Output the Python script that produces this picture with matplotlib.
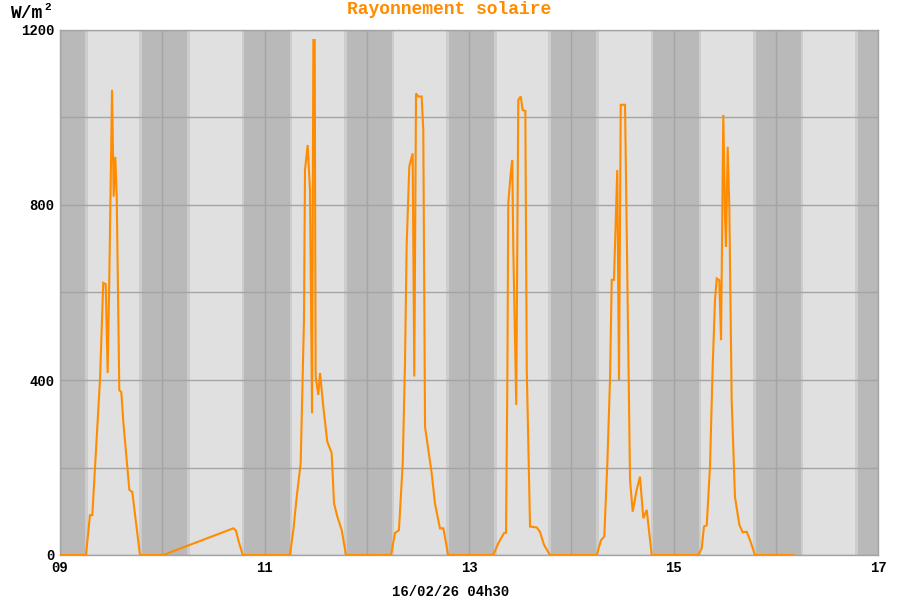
import matplotlib
matplotlib.use("Agg")
import matplotlib.pyplot as plt
import numpy as np

# time (day of month, fractional) and solar irradiance (W/m2)
t_days = [9.000, 9.254, 9.293, 9.316, 9.391, 9.423, 9.447, 9.466, 9.482, 9.509,
          9.525, 9.541, 9.555, 9.580, 9.600, 9.619, 9.678, 9.707, 9.782, 10.010,
          10.695, 10.721, 10.744, 10.787, 11.249, 11.282, 11.315, 11.354, 11.374, 11.386,
          11.396, 11.422, 11.445, 11.465, 11.478, 11.491, 11.500, 11.526, 11.543, 11.575,
          11.614, 11.657, 11.680, 11.712, 11.755, 11.797, 12.237, 12.276, 12.315, 12.352,
          12.374, 12.390, 12.416, 12.449, 12.465, 12.482, 12.504, 12.537, 12.553, 12.570,
          12.602, 12.635, 12.667, 12.716, 12.749, 12.782, 12.795, 13.238, 13.287, 13.342,
          13.362, 13.375, 13.384, 13.408, 13.423, 13.433, 13.462, 13.482, 13.506, 13.525,
          13.551, 13.565, 13.597, 13.662, 13.694, 13.734, 13.792, 14.249, 14.291, 14.323,
          14.353, 14.379, 14.396, 14.418, 14.428, 14.438, 14.450, 14.467, 14.484, 14.526,
          14.575, 14.601, 14.640, 14.672, 14.705, 14.738, 14.787, 15.243, 15.276, 15.298,
          15.325, 15.357, 15.383, 15.406, 15.423, 15.448, 15.465, 15.487, 15.504, 15.513,
          15.530, 15.546, 15.569, 15.601, 15.644, 15.677, 15.716, 15.748, 15.797, 16.172]
irradiance = [0, 0, 91, 91, 400, 622, 619, 416, 629, 1063,
              819, 910, 816, 377, 372, 305, 149, 144, 0, 0,
              61, 56, 34, 0, 0, 57, 133, 210, 408, 537,
              880, 937, 834, 324, 1177, 1177, 408, 366, 416, 339,
              259, 233, 118, 88, 57, 0, 0, 50, 57, 210,
              438, 705, 888, 918, 408, 1055, 1048, 1048, 971, 293,
              240, 187, 118, 61, 61, 19, 0, 0, 27, 50,
              51, 400, 804, 872, 903, 705, 343, 1040, 1048, 1017,
              1015, 423, 65, 63, 53, 23, 0, 0, 34, 42,
              210, 400, 629, 629, 705, 781, 880, 400, 1029, 1029,
              171, 99, 149, 179, 84, 103, 0, 0, 15, 65,
              68, 202, 430, 583, 632, 628, 491, 1006, 773, 705,
              933, 796, 354, 133, 69, 52, 53, 34, 0, 0]

days = list(range(9, 18))
x_labels = ["09", "", "11", "", "13", "", "15", "", "17"]
y_ticks = [0, 200, 400, 600, 800, 1000, 1200]
y_labels = ["0", "", "400", "", "800", "", "1200"]
dusk_offset = -0.198   # night starts before midnight
dawn_offset = 0.245    # night ends after midnight

FONT = "Liberation Mono"
ORANGE = "#ff8c00"

fig = plt.figure(figsize=(9, 6), dpi=100)
ax = fig.add_axes([60 / 900, 45 / 600, 818 / 900, 525 / 600])
ax.set_facecolor("#e0e0e0")
ax.set_xlim(9, 17)
ax.set_ylim(0, 1200)

tw = 0.025
for d in days:
    s = d + dusk_offset
    e = d + dawn_offset
    ax.axvspan(s - tw, s, color="#cdcdcd", lw=0, zorder=0)
    ax.axvspan(e, e + tw, color="#cdcdcd", lw=0, zorder=0)
    ax.axvspan(s, e, color="#b9b9b9", lw=0, zorder=0)

ax.set_xticks(days)
ax.set_xticklabels(x_labels)
ax.set_yticks(y_ticks)
ax.set_yticklabels(y_labels)
ax.grid(True, color="#a4a4a4", lw=1, zorder=1)
ax.set_axisbelow(True)
ax.tick_params(length=0, pad=4, colors="black")
for lab in ax.get_xticklabels() + ax.get_yticklabels():
    lab.set_fontfamily(FONT)
    lab.set_fontweight("bold")
    lab.set_fontsize(10)
for sp in ax.spines.values():
    sp.set_color("#a4a4a4")
    sp.set_linewidth(1)

ax.plot(t_days, irradiance, color=ORANGE, lw=1.5, zorder=3, solid_joinstyle="miter")

fig.text(449 / 900, 1 - 10 / 600, "Rayonnement solaire", ha="center", va="center",
         color=ORANGE, fontfamily=FONT, fontweight="bold", fontsize=13)
fig.text(10 / 900, 1 - 13 / 600, "W/m", ha="left", va="center",
         color="black", fontfamily=FONT, fontweight="bold", fontsize=13)
fig.text(44 / 900, 1 - 7 / 600, "2", ha="left", va="center",
         color="black", fontfamily=FONT, fontweight="bold", fontsize=8)
fig.text(451 / 900, 1 - 592 / 600, "16/02/26 04h30", ha="center", va="center",
         color="black", fontfamily=FONT, fontweight="bold", fontsize=10)

fig.savefig("out.png", dpi=100)
